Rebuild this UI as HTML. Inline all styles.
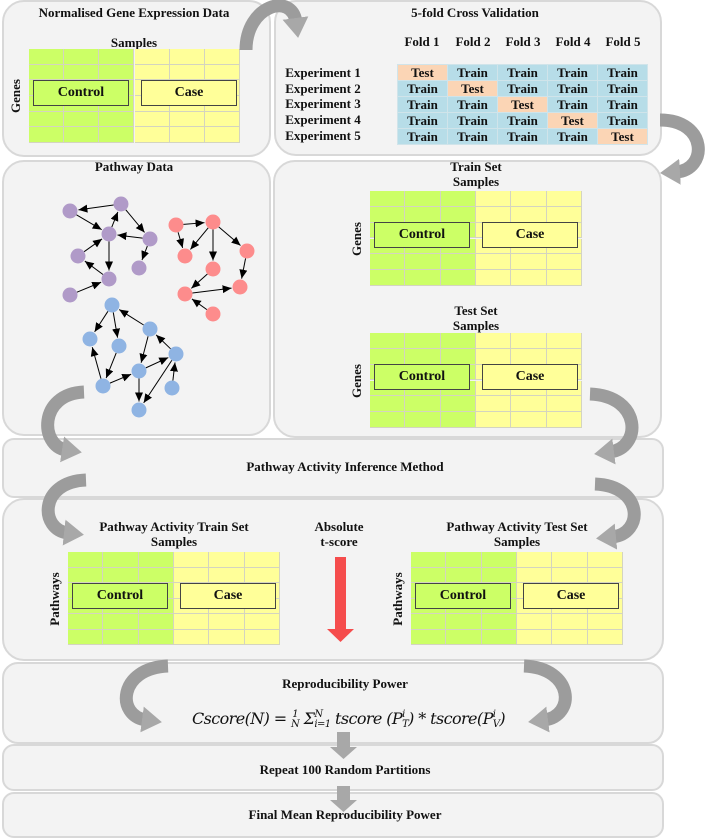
<!DOCTYPE html>
<html><head><meta charset="utf-8">
<style>
body{margin:0;width:708px;height:840px;background:#fff;position:relative;overflow:hidden;font-family:"Liberation Serif",serif;font-weight:bold;color:#111}
.bx{position:absolute;background:#f3f3f3;border:2px solid #d8d8d8;border-radius:22px;box-sizing:border-box}
.t{position:absolute;font-size:13px;white-space:nowrap;transform:translateX(-50%);line-height:14px;font-family:"Liberation Serif",serif}
.g{position:absolute}
.g .c{position:absolute;box-sizing:border-box;border-right:1px solid #d4d4c0;border-bottom:1px solid #d4d4c0}
.lbl{position:absolute;box-sizing:border-box;border:1px solid #444;font-size:14px;text-align:center;line-height:24px;font-family:"Liberation Serif",serif;font-weight:bold}
.rot{position:absolute;font-size:13px;transform:translate(-50%,-50%) rotate(-90deg);white-space:nowrap;font-family:"Liberation Serif",serif}
.ft{position:absolute;border-collapse:collapse;font-size:13px;font-family:"Liberation Serif",serif}
.ft td{width:49px;height:15px;padding:0;text-align:center;border:1px solid #d0e4ea;background:#b7dde8;line-height:14px}
.ft td.x{background:#fbd5b5}
</style></head><body>
<div class="bx" style="left:2px;top:0;width:269px;height:157px"></div>
<div class="bx" style="left:274px;top:0;width:388px;height:156px"></div>
<div class="bx" style="left:2px;top:160px;width:269px;height:276px"></div>
<div class="bx" style="left:273px;top:160px;width:389px;height:278px"></div>
<div class="bx" style="left:2px;top:438px;width:662px;height:60px;border-radius:12px"></div>
<div class="bx" style="left:2px;top:498px;width:662px;height:163px"></div>
<div class="bx" style="left:2px;top:662px;width:662px;height:82px;border-radius:16px"></div>
<div class="bx" style="left:2px;top:744px;width:662px;height:47px;border-radius:12px"></div>
<div class="bx" style="left:2px;top:792px;width:662px;height:46px;border-radius:12px"></div>

<div class="t" style="left:134px;top:6px">Normalised Gene Expression Data</div>
<div class="t" style="left:134px;top:36px">Samples</div>
<div class="t" style="left:475px;top:6px">5-fold Cross Validation</div>
<div class="t" style="left:422px;top:35px">Fold 1</div>
<div class="t" style="left:473px;top:35px">Fold 2</div>
<div class="t" style="left:523px;top:35px">Fold 3</div>
<div class="t" style="left:573px;top:35px">Fold 4</div>
<div class="t" style="left:623px;top:35px">Fold 5</div>
<div class="t" style="left:323px;top:66px">Experiment 1</div>
<div class="t" style="left:323px;top:82px">Experiment 2</div>
<div class="t" style="left:323px;top:97px">Experiment 3</div>
<div class="t" style="left:323px;top:113px">Experiment 4</div>
<div class="t" style="left:323px;top:129px">Experiment 5</div>
<table class="ft" style="left:397px;top:64px">
<tr><td class="x">Test</td><td>Train</td><td>Train</td><td>Train</td><td>Train</td></tr>
<tr><td>Train</td><td class="x">Test</td><td>Train</td><td>Train</td><td>Train</td></tr>
<tr><td>Train</td><td>Train</td><td class="x">Test</td><td>Train</td><td>Train</td></tr>
<tr><td>Train</td><td>Train</td><td>Train</td><td class="x">Test</td><td>Train</td></tr>
<tr><td>Train</td><td>Train</td><td>Train</td><td>Train</td><td class="x">Test</td></tr>
</table>
<div class="t" style="left:134px;top:160px">Pathway Data</div>
<div class="t" style="left:476px;top:160px">Train Set</div>
<div class="t" style="left:476px;top:175px">Samples</div>
<div class="t" style="left:476px;top:304px">Test Set</div>
<div class="t" style="left:476px;top:319px">Samples</div>
<div class="t" style="left:345px;top:460px">Pathway Activity Inference Method</div>
<div class="t" style="left:174px;top:520px">Pathway Activity Train Set</div>
<div class="t" style="left:174px;top:535px">Samples</div>
<div class="t" style="left:517px;top:520px">Pathway Activity Test Set</div>
<div class="t" style="left:517px;top:535px">Samples</div>
<div class="t" style="left:339px;top:520px">Absolute</div>
<div class="t" style="left:339px;top:535px">t-score</div>
<div class="t" style="left:345px;top:677px">Reproducibility Power</div>
<div class="t" style="left:345px;top:763px">Repeat 100 Random Partitions</div>
<div class="t" style="left:345px;top:808px">Final Mean Reproducibility Power</div>
<div style="position:absolute;left:192px;top:709px;font:italic 16px 'DejaVu Serif',serif;font-weight:normal;white-space:nowrap;letter-spacing:-0.6px">Cscore(N) = <span style="font-size:10px;display:inline-block;vertical-align:middle;text-align:center;line-height:10px">1<br>N</span> &Sigma;<span style="font-size:10px;display:inline-block;vertical-align:middle;line-height:10px">N<br>i=1</span> tscore (P<span style="font-size:10px;display:inline-block;vertical-align:middle;line-height:10px"> i<br>T</span>) * tscore(P<span style="font-size:10px;display:inline-block;vertical-align:middle;line-height:10px"> i<br>V</span>)</div>

<div id="grids"></div>

<svg width="708" height="840" style="position:absolute;left:0;top:0">
<defs>
<marker id="gh" markerUnits="userSpaceOnUse" markerWidth="26" markerHeight="26" refX="4" refY="13" orient="auto"><path d="M0,0 L20,13 L0,26 Z" fill="#a8a8a8"/></marker>
<marker id="ah" markerUnits="userSpaceOnUse" markerWidth="10" markerHeight="10" refX="9" refY="4" orient="auto"><path d="M0,0 L9,4 L0,8 Z" fill="#000"/></marker>
</defs>
<g fill="none" stroke="#9c9c9c" stroke-width="13" marker-end="url(#gh)">
<path d="M246,50 C246,5 292,-8 296,22"/>
<path d="M660,120 C708,120 708,170 676,172"/>
<path d="M84,392 C38,394 40,446 66,450"/>
<path d="M86,480 C38,482 40,530 68,533"/>
<path d="M590,394 C642,396 642,448 610,452"/>
<path d="M595,484 C644,486 644,534 612,537"/>
<path d="M168,666 C118,668 116,716 146,720"/>
<path d="M524,666 C574,668 576,716 544,720"/>
</g>
<path d="M337,732 H350 V747 H357 L343.5,759 L330,747 H337 Z" fill="#a8a8a8"/>
<path d="M337,786 H350 V800 H357 L343.5,812 L330,800 H337 Z" fill="#a8a8a8"/>
<path d="M335,557 H346 V629 H354 L340.5,642 L327,629 H335 Z" fill="#f54c4c"/>
<g id="net"></g>
</svg>
<script>
var G=document.getElementById('grids'),h='';
function grid(x,y,w,hh,lab){
 var cw=w/6,rh=hh/6;h+='<div class="g" style="left:'+x+'px;top:'+y+'px;width:'+w+'px;height:'+hh+'px">';
 for(var r=0;r<6;r++)for(var c=0;c<6;c++)h+='<div class="c" style="left:'+(c*cw)+'px;top:'+(r*rh)+'px;width:'+cw+'px;height:'+rh+'px;background:'+(c<3?'#ccff66':'#ffff99')+'"></div>';
 h+='<div class="lbl" style="left:4px;top:31px;width:96px;height:26px;background:#ccff66">Control</div>';
 h+='<div class="lbl" style="left:112px;top:31px;width:96px;height:26px;background:#ffff99">Case</div></div>';
 h+='<div class="rot" style="left:'+(x-13)+'px;top:'+(y+hh/2)+'px">'+lab+'</div>';
}
grid(29,49,211,94,'Genes');grid(370,191,212,95,'Genes');grid(370,333,212,95,'Genes');
grid(68,552,212,93,'Pathways');grid(411,552,212,93,'Pathways');
G.innerHTML=h;
var N={A:[70,211],B:[121,204],C:[109,234],D:[150,239],E:[78,256],F:[139,268],G:[109,279],H:[70,295],
R1:[176,225],R2:[213,222],R3:[185,256],R4:[247,251],R5:[213,269],R6:[240,287],R7:[185,294],R8:[213,314],
U1:[112,305],U2:[90,339],U3:[119,346],U4:[150,329],U5:[176,354],U6:[139,371],U7:[103,386],U8:[172,388],U9:[139,410]};
var E=[['B','A'],['A','C'],['C','B'],['B','D'],['D','C'],['E','C'],['D','F'],['C','G'],['G','E'],['H','G'],
['R1','R2'],['R1','R3'],['R2','R3'],['R2','R5'],['R2','R4'],['R4','R6'],['R5','R7'],['R7','R6'],['R8','R7'],
['U1','U2'],['U1','U3'],['U4','U1'],['U3','U7'],['U7','U2'],['U7','U6'],['U6','U5'],['U5','U4'],['U4','U6'],['U6','U9'],['U5','U9'],['U8','U5']];
var s='',r=7.5;
E.forEach(function(e){var a=N[e[0]],b=N[e[1]],dx=b[0]-a[0],dy=b[1]-a[1],d=Math.hypot(dx,dy);
 s+='<line x1="'+(a[0]+dx/d*r)+'" y1="'+(a[1]+dy/d*r)+'" x2="'+(b[0]-dx/d*(r+1))+'" y2="'+(b[1]-dy/d*(r+1))+'" stroke="#000" stroke-width="1" marker-end="url(#ah)"/>';});
for(var k in N){var col=k[0]=='R'?'#fd8c8c':k[0]=='U'?'#8fb4e3':'#b09ac8';s+='<circle cx="'+N[k][0]+'" cy="'+N[k][1]+'" r="'+r+'" fill="'+col+'"/>';}
document.getElementById('net').innerHTML=s;
</script>
</body></html>
